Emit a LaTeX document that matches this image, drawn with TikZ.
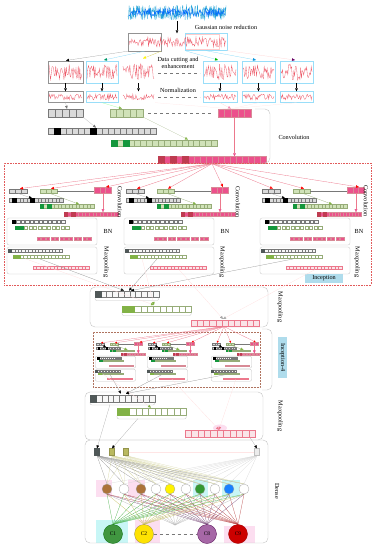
\documentclass[tikz,border=0pt]{standalone}
\usepackage{fontspec}
\setmainfont{Liberation Serif}
\usetikzlibrary{calc,arrows.meta}
\pgfdeclarelayer{back}
\pgfdeclarelayer{bg}
\pgfsetlayers{back,bg,main}
\definecolor{hpink}{RGB}{236,80,140}
\definecolor{dpink}{RGB}{190,60,80}
\definecolor{lpink}{RGB}{250,228,232}
\definecolor{pinkln}{RGB}{236,120,140}
\definecolor{lgreen}{RGB}{208,226,184}
\definecolor{gline}{RGB}{150,172,120}
\definecolor{dgreen}{RGB}{20,150,60}
\definecolor{mgreen}{RGB}{130,178,70}
\definecolor{lgray}{RGB}{218,218,218}
\definecolor{mgray}{RGB}{120,120,120}
\definecolor{dgray}{RGB}{80,88,88}
\definecolor{sigred}{RGB}{236,90,105}
\definecolor{sigblue}{RGB}{40,165,215}
\definecolor{boxln}{RGB}{195,195,195}
\definecolor{incred}{RGB}{225,90,90}
\definecolor{incbrown}{RGB}{175,115,95}
\definecolor{labcyan}{RGB}{175,220,236}
\definecolor{olive}{RGB}{185,185,95}
\definecolor{bgpink}{RGB}{252,222,240}
\definecolor{bgcyan}{RGB}{200,246,246}
\tikzset{
 grayv/.style={draw=mgray, fill=lgray, line width=0.25pt},
 greenv/.style={draw=gline, fill=lgreen, line width=0.25pt},
 pinkv/.style={draw=dpink!60, fill=hpink, line width=0.25pt},
 lpinkv/.style={draw=pinkln, fill=lpink, line width=0.25pt},
 wgrayv/.style={draw=mgray, fill=gray!6, line width=0.25pt},
 wgreenv/.style={draw=gline, fill=white, line width=0.25pt},
 blackc/.style={draw=black, fill=black, line width=0.25pt},
 dgrayc/.style={draw=dgray, fill=dgray, line width=0.25pt},
 dgreenc/.style={draw=dgreen, fill=dgreen, line width=0.25pt},
 mgreenc/.style={draw=mgreen, fill=mgreen, line width=0.25pt},
 dpinkc/.style={draw=dpink, fill=dpink, line width=0.25pt},
 sect/.style={draw=boxln, rounded corners=5pt, line width=0.4pt, inner sep=0},
 sect2/.style={draw=boxln, rounded corners=2pt, line width=0.3pt},
 sbox/.style={inner sep=0, line width=0.35pt},
 hole/.style={inner sep=0},
 lbl/.style={font=\fontsize{6.2}{7.2}\selectfont, inner sep=0.5pt},
 vlbl/.style={lbl, rotate=-90},
 tip/.style={-{Triangle[length=3pt,width=2.6pt,color=#1]}},
 tip/.default=black,
 stip/.style={-{Triangle[length=2pt,width=1.8pt,color=#1]}},
 stip/.default=black,
 faint/.style={line width=0.25pt, draw=#1},
 faint/.default=gray!40,
 hc/.style={circle, minimum size=10pt, inner sep=0, draw=gray!70, line width=0.3pt},
 oc/.style={circle, minimum size=19pt, inner sep=0, line width=0.3pt, font=\fontsize{5.5}{6}\selectfont},
 sq/.style={inner sep=0, minimum width=5pt, minimum height=7pt, line width=0.3pt},
}
\newcommand{\crow}[6]{\foreach \k in {1,...,#3}{\draw[#6] ({#1+(\k-1)*#4},{#2-#5/2}) rectangle ++(#4,#5);}}
\newcommand{\ccell}[6]{\draw[#6] ({#1+#3*#4},{#2-#5/2}) rectangle ++(#4,#5);}
\newcommand{\srow}[6]{\foreach \k in {1,...,#3}{\draw[#6] ({#1+(\k-1)*#4},{#2-#5/2}) rectangle ++(#5,#5);}}
\newcommand{\sig}[6]{\draw[#5, line width=0.3pt] plot[domain=#1:#2, samples=#6] (\x,{#3+#4*rand});}
% #1 prefix, #2 cell width of the pink convolution row
\newcommand{\incol}[2]{%
 \crow{9}{191}{3}{6}{4.5}{grayv}
 \crow{40}{191}{3}{5.7}{4.5}{greenv}
 \draw[mgray, line width=0.25pt] (57.1,191) -- (94,191);
 \crow{94}{190}{3}{5.7}{6}{pinkv}
 \coordinate (#1m1) at (20,188.6);
 \coordinate (#1m2) at (51,188.6);
 \coordinate (#1m3) at (106,187);
 \crow{9}{200}{15}{3.6}{3.4}{grayv}
 \ccell{9}{200}{1}{3.6}{3.4}{blackc}
 \ccell{9}{200}{6}{3.6}{3.4}{blackc}
 \crow{40}{206}{15}{3.6}{3.4}{greenv}
 \ccell{40}{206}{0}{3.6}{3.4}{dgreenc}
 \ccell{40}{206}{2}{3.6}{3.4}{dgreenc}
 \crow{64}{214}{15}{#2}{3.4}{pinkv}
 \ccell{64}{214}{0}{#2}{3.4}{dpinkc}
 \ccell{64}{214}{2}{#2}{3.4}{dpinkc}
 \coordinate (#1a) at (18,193.4);
 \coordinate (#1b) at (32,198.2);
 \coordinate (#1c) at (50,193.4);
 \coordinate (#1d) at (79,204.2);
 \coordinate (#1e) at (103,193.1);
 \coordinate (#1f) at (103,212.2);
 \draw[faint=mgray!60, tip=black] (#1a) -- (#1b);
 \draw[faint=gline, tip=mgreen] (#1c) -- (#1d);
 \draw[line width=0.3pt, draw=pinkln, tip=hpink] (#1e) -- (#1f);
 \draw[sect2] (7,218) rectangle (97,245);
 \srow{12}{222}{12}{4.5}{3.2}{wgrayv}
 \draw[blackc] (12,220.4) rectangle ++(3.2,3.2);
 \srow{15}{228}{12}{4.6}{3.2}{wgreenv}
 \draw[dgreenc] (15,226.4) rectangle ++(3.2,3.2);
 \draw[dgreenc] (19.6,226.4) rectangle ++(3.2,3.2);
 \srow{37}{239}{12}{4.6}{3.2}{pinkv}
 \draw[sect2] (7,247) rectangle (97,274);
 \crow{8}{251}{16}{3.4}{3}{wgrayv}
 \ccell{8}{251}{0}{3.4}{3}{dgrayc}
 \crow{13}{257}{16}{3.5}{3}{wgreenv}
 \ccell{13}{257}{0}{3.5}{3}{mgreenc}
 \ccell{13}{257}{1}{3.5}{3}{mgreenc}
 \crow{33}{268}{16}{3.5}{3}{lpinkv}
 \coordinate (#1out) at (40,259);
 \coordinate (#1g) at (25,258.6);
 \coordinate (#1p) at (62,269.6);
}
\begin{document}
\begin{tikzpicture}[x=1pt,y=-1pt]
\useasboundingbox (0,0) rectangle (374,550);
\pgfmathsetseed{12}
% ---------------- top signals
\node[hole, minimum width=98pt, minimum height=17pt] (raw) at (177,12.5) {};
\sig{128}{226}{12.5}{7.5}{sigblue}{260}
\sig{129}{225}{12.5}{4}{blue!60!cyan}{180}
\node[lbl] (gnr) at (226,27) {Gaussian noise reduction};
\node[hole, minimum width=99pt, minimum height=17pt] (den) at (177,42) {};
\draw[tip] (raw.south) -- (den.north);
\node[sbox, draw=mgray!80, minimum width=33pt, minimum height=18pt] (dA) at (144.5,42) {};
\node[sbox, draw=pink!80, minimum width=34pt, minimum height=15pt] (dB) at (202,42) {};
\node[sbox, draw=cyan!40, minimum width=42pt, minimum height=17pt] (dC) at (206,42) {};
\sig{129}{226}{42}{5}{sigred}{140}
% ---------------- row 3 (cut data) and row 4 (normalized)
\foreach \n/\cx/\w/\c in {a/65.5/35/mgray!80, b/102/32/cyan!40, c/138.5/33/white, d/220/34/cyan!40, e/258.5/33/cyan!40, f/296.5/33/cyan!40}{
  \node[sbox, draw=\c, minimum width=\w pt, minimum height=22pt] (r3\n) at (\cx,72) {};
  \node[sbox, draw=\c, minimum width=\w pt, minimum height=11pt] (r4\n) at (\cx,97) {};
  \draw[tip] (r3\n.south) -- (r4\n.north);
}
\sig{49}{82}{72}{8}{sigred}{45}
\sig{87}{117}{72}{8}{sigred}{42}
\sig{123}{154}{72}{8}{sigred}{42}
\sig{204}{236}{72}{8}{sigred}{44}
\sig{243}{274}{72}{7}{sigred}{42}
\sig{281}{312}{72}{8}{sigred}{42}
\sig{49}{82}{97}{3}{sigred}{45}
\sig{87}{117}{97}{3}{sigred}{42}
\sig{123}{154}{97}{3}{sigred}{42}
\sig{204}{236}{97}{3}{sigred}{44}
\sig{243}{274}{97}{3}{sigred}{42}
\sig{281}{312}{97}{3}{sigred}{42}
\coordinate (m1) at (66,60.5);
\coordinate (m2) at (104,60);
\coordinate (m3) at (143,58.5);
\coordinate (m4) at (218,60);
\coordinate (m5) at (256,60);
\coordinate (m6) at (295,60);
\draw[faint=mgray!70, tip=black] (dA.south west) -- (m1);
\draw[faint=cyan!50, tip=teal!80!green] (dA.south) -- (m2);
\draw[faint=yellow!60!gray, tip=yellow] (dA.south east) -- (m3);
\draw[faint=cyan!50, tip=green!70!black] (dC.south west) -- (m4);
\draw[faint=cyan!50, tip=cyan!80!blue] (dC.south) -- (m5);
\draw[faint=pink!70, tip=violet!80!black] (dC.south east) -- (m6);
\node[lbl, align=center] (dce) at (178,63) {Data cutting and\\enhancement};
\draw[dashed, mgray, line width=0.3pt] (158,73) -- (200,73);
\node[lbl] (nrm) at (178,90) {Normalization};
\draw[dashed, mgray, line width=0.3pt] (158,97.5) -- (200,97.5);
% ---------------- row 5 feature vectors
\crow{48}{113}{5}{7}{8}{grayv}
\node[hole, minimum width=35pt, minimum height=8pt] (v5a) at (65.5,113) {};
\crow{110}{113}{5}{6.6}{8}{greenv}
\node[hole, minimum width=33pt, minimum height=8pt] (v5b) at (126.5,113) {};
\draw[dashed, mgray, line width=0.3pt] (148,113) -- (212,113);
\crow{218}{113}{5}{6.6}{8}{pinkv}
\node[hole, minimum width=33pt, minimum height=8pt] (v5c) at (234.5,113) {};
\coordinate (m7) at (67,108.8);
\coordinate (m8) at (122,108.6);
\coordinate (m9) at (231,108.8);
\draw[faint=mgray!50, tip=mgray] (r4a.south) -- (m7);
\draw[faint=green!40, tip=mgreen] (r4b.south) -- (m8);
\draw[faint=pink!60, tip=hpink!70] (r4d.south) -- (m9);
\draw[faint=pink!40] (r4c.south east) -- (m9);
\draw[faint=pink!40] (r4e.south) -- (m9);
\draw[faint=pink!40] (r4f.south) -- (m9);
% rows 6-8
\crow{48}{131}{18}{6}{6}{grayv}
\ccell{48}{131}{1}{6}{6}{blackc}
\ccell{48}{131}{7}{6}{6}{blackc}
\node[hole, minimum width=108pt, minimum height=6pt] (v6) at (102,131) {};
\crow{111}{143}{18}{5.9}{6}{greenv}
\ccell{111}{143}{0}{5.9}{6}{dgreenc}
\ccell{111}{143}{2}{5.9}{6}{dgreenc}
\node[hole, minimum width=106pt, minimum height=6pt] (v7) at (164,143) {};
\crow{158}{160}{18}{6}{7}{pinkv}
\ccell{158}{160}{0}{6}{7}{dpinkc}
\ccell{158}{160}{2}{6}{7}{dpinkc}
\ccell{158}{160}{4}{6}{7}{dpinkc}
\node[hole, minimum width=108pt, minimum height=7pt] (v8) at (212,160) {};
\coordinate (m10) at (96,127.6);
\coordinate (m11) at (188,139.6);
\draw[faint=mgray!50, tip=mgray] (v5a.south east) -- (m10);
\draw[faint=gline!70, tip=mgreen] (v5b.south east) -- (m11);
\draw[line width=0.3pt, draw=pinkln, tip=hpink] (v5c.south) -- (v5c.south |- v8.north);
\draw[boxln, line width=0.4pt, rounded corners=5pt] (255,109) -- (270,109) -- (270,163) -- (262,163);
\node[lbl] (convl) at (294,137) {Convolution};
% ---------------- Inception block
\node[draw=incred, densely dotted, line width=0.6pt, minimum width=367pt, minimum height=122pt, inner sep=0] (incep) at (187.5,224) {};
\begin{scope}\incol{i1}{3.6}\end{scope}
\begin{scope}[shift={(117,0)}]\incol{i2}{3.6}\end{scope}
\begin{scope}[shift={(253,0)}]\incol{i3}{2.95}\end{scope}
\foreach \c in {i1,i2,i3}{
  \foreach \m in {m1,m2,m3}{
    \draw[line width=0.3pt, draw=pinkln, tip=red] (v8.south) -- (\c\m);
  }
}
\node[vlbl] (cv1) at (120,202) {Convolution};
\node[vlbl] (cv2) at (238,202) {Convolution};
\node[vlbl] (cv3) at (366,201) {Convolution};
\node[lbl] (bn1) at (108,231) {BN};
\node[lbl] (bn2) at (225,231) {BN};
\node[lbl] (bn3) at (359,231) {BN};
\node[vlbl] (mx1) at (106,262) {Maxpooling};
\node[vlbl] (mx2) at (222,262) {Maxpooling};
\node[vlbl] (mx3) at (357,262) {Maxpooling};
\node[lbl, fill=labcyan, minimum width=38pt, minimum height=9pt] (incl) at (324,278.5) {Inception};
% ---------------- Maxpooling 1
\node[sect, minimum width=178pt, minimum height=40pt] (mp1) at (179,307) {};
\crow{95}{294.5}{11}{5.8}{6}{wgrayv}
\ccell{95}{294.5}{0}{5.8}{6}{dgrayc}
\draw[boxln, line width=0.3pt, rounded corners=2pt] (95,297.5) -- (95,300.5) -- (158.8,300.5) -- (158.8,297.5);
\crow{122}{309}{11}{6.3}{6}{wgreenv}
\ccell{122}{309}{0}{6.3}{6}{mgreenc}
\ccell{122}{309}{1}{6.3}{6}{mgreenc}
\draw[boxln, line width=0.3pt, rounded corners=2pt] (122,312) -- (122,315.5) -- (191.3,315.5) -- (191.3,312);
\crow{191}{323}{11}{6.2}{6}{lpinkv}
\coordinate (mpa) at (124,290.6);
\coordinate (mpb) at (129,290.6);
\coordinate (mpc) at (131,290.6);
\coordinate (mpg) at (154,305);
\coordinate (mpp) at (223,319);
\coordinate (mpf) at (224,326.5);
\draw[faint=mgray!80, tip=black] (i1out) -- (mpa);
\draw[faint=mgray!80, tip=black] (i2out) -- (mpb);
\draw[faint=mgray!80, tip=black] (i3out) -- (mpc);
\draw[faint=pink!50, tip=mgreen] (i1g) -- (mpg);
\draw[faint=pink!50, tip=mgreen] (i2g) -- (mpg);
\draw[faint=pink!50, tip=gray!70] (i2p) -- (mpp);
\draw[faint=pink!50, tip=gray!70] (i3p) -- (mpp);
\node[vlbl] (mxa) at (280,307) {Maxpooling};
% ---------------- Inception-4
\node[draw=incbrown, densely dotted, line width=0.5pt, minimum width=167pt, minimum height=55pt, inner sep=0] (inc4) at (176.5,359.5) {};
\begin{scope}[shift={(92,258)}, scale=0.45]\incol{ja}{3.6}\end{scope}
\begin{scope}[shift={(144,258)}, scale=0.45]\incol{jb}{3.6}\end{scope}
\begin{scope}[shift={(208,258)}, scale=0.45]\incol{jc}{3.3}\end{scope}
\foreach \c in {ja,jb,jc}{
  \foreach \m in {m1,m2,m3}{
    \draw[line width=0.25pt, draw=pinkln, stip=red] (mpf) -- (\c\m);
  }
}
\draw[boxln, line width=0.4pt, rounded corners=5pt] (262,329) -- (272,329) -- (272,390) -- (262,390);
\node[lbl, fill=labcyan, rotate=-90, minimum width=41pt, minimum height=9pt] (inc4l) at (282.5,357.5) {Inception-4};
% ---------------- Maxpooling 2
\node[sect, minimum width=178pt, minimum height=48pt] (mp2) at (174,416) {};
\crow{90}{398.5}{11}{5.9}{7}{wgrayv}
\ccell{90}{398.5}{0}{5.9}{7}{dgrayc}
\draw[boxln, line width=0.3pt, rounded corners=2pt] (90,402) -- (90,405) -- (154.9,405) -- (154.9,402);
\crow{117}{412}{11}{6.3}{7}{wgreenv}
\ccell{117}{412}{0}{6.3}{7}{mgreenc}
\ccell{117}{412}{1}{6.3}{7}{mgreenc}
\draw[boxln, line width=0.3pt, rounded corners=2pt] (117,415.5) -- (117,419) -- (186.3,419) -- (186.3,415.5);
\begin{pgfonlayer}{back}
\fill[bgpink] (220,428) ellipse (7pt and 3.5pt);
\end{pgfonlayer}
\crow{185}{434}{11}{6.4}{7}{lpinkv}
\coordinate (mq1) at (121,393.6);
\coordinate (mq2) at (126,393.6);
\coordinate (mqg) at (151,407.6);
\coordinate (mqp) at (219,429.8);
\draw[faint=mgray!80, tip=black] (jaout) -- (mq1);
\draw[faint=mgray!80, tip=black] (jbout) -- (mq2);
\draw[faint=mgray!80, tip=black] (jcout) -- (mq2);
\draw[faint=pink!50, tip=mgreen] (jag) -- (mqg);
\draw[faint=pink!50, tip=pinkln] (jbp) -- (mqp);
\draw[faint=pink!50, tip=pinkln] (jcp) -- (mqp);
\node[vlbl] (mxb) at (280,416) {Maxpooling};
% ---------------- Dense
\node[sect, minimum width=183pt, minimum height=103pt] (dns) at (176.5,491.5) {};
\node[vlbl] (dnl) at (277,491) {Dense};
\node[sq, draw=dgray, fill=dgray] (s1) at (97,452) {};
\node[sq, draw=olive!80!black, fill=olive] (s2) at (112,452) {};
\node[sq, draw=olive!80!black, fill=olive] (s3) at (126,452) {};
\node[sq, draw=gray!50, fill=gray!15] (s4) at (257,452) {};
\draw[faint=pink!40] (s3.east) -- (s4.west);
\coordinate (mg1) at (110,404.5);
\coordinate (mg2) at (138,418.5);
\coordinate (mg3) at (250,437.5);
\draw[faint=mgray!60, tip=black] (mg1) -- (s1.north);
\draw[faint=mgray!60, tip=black] (mg2) -- (s2.north);
\draw[faint=mgray!60, tip=black] (mg3) -- (s4.north);
\foreach \i/\x/\c in {1/107/{brown!90!black}, 2/124/white, 3/141/{brown!90!black}, 4/156/white, 5/170/yellow, 6/186/white, 7/200/{green!50!black!80}, 8/215/white, 9/229/{blue!55!cyan!90!white}, 10/244/white}{
  \node[hc, fill=\c] (h\i) at (\x,489) {};
}
\node[oc, fill=green!45!black!75, draw=green!40!black] (o1) at (113,534) {C1};
\node[oc, fill=yellow!85!orange, draw=yellow!50!black] (o2) at (144,534) {C2};
\node[oc, fill=violet!55!white!90!black, draw=violet!60!black] (o3) at (207,534) {C8};
\node[oc, fill=red!80!black, draw=red!60!black] (o4) at (238,534) {C9};
\draw[dashed, mgray, line width=0.3pt] (o2.east) -- (o3.west);
\coordinate (mid) at (175,525);
\begin{pgfonlayer}{back}
\fill[bgpink] (96,480) rectangle (112,497);
\fill[bgpink] (128,480) rectangle (145,497);
\fill[bgcyan] (193,480) rectangle (208,497);
\fill[bgcyan] (222,480) rectangle (240,497);
\fill[bgcyan] (96,520) rectangle (128,543);
\fill[bgpink] (135,520) rectangle (160,543);
\fill[bgpink] (224,526) rectangle (255,543);
\end{pgfonlayer}
\begin{pgfonlayer}{bg}
\foreach \j in {1,...,10}{
  \draw[faint=gray!80] (s1.south) -- (h\j.north);
  \draw[faint=olive!60] (s2.south) -- (h\j.north);
  \draw[faint=olive!45] (s3.south) -- (h\j.north);
  \draw[faint=gray!30] (s4.south) -- (h\j.north);
  \draw[faint=gray!55] (h\j.south) -- (mid);
  \draw[faint=green!40!gray] (h\j.south) -- (o1.north);
  \draw[faint=yellow!50!gray] (h\j.south) -- (o2.north);
  \draw[faint=violet!35!gray] (h\j.south) -- (o3.north);
  \draw[faint=red!45!gray] (h\j.south) -- (o4.north);
}
\end{pgfonlayer}
\end{tikzpicture}
\end{document}
